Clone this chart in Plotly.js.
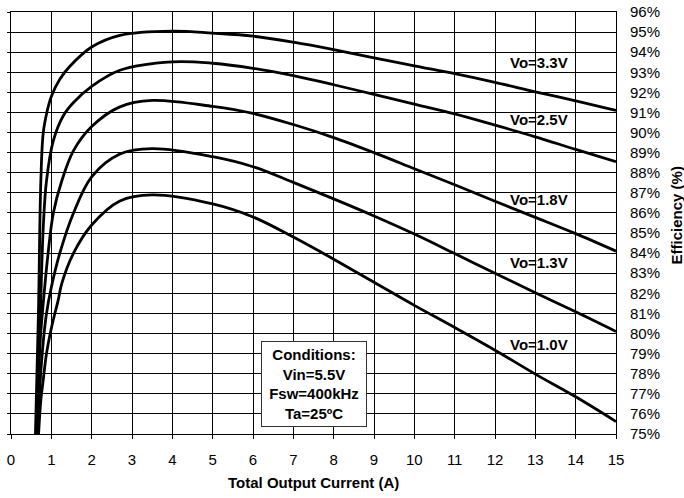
<!DOCTYPE html>
<html>
<head>
<meta charset="utf-8">
<script src="https://cdn.plot.ly/plotly-3.0.1.min.js"></script>
<style>html,body{margin:0;padding:0;background:#fff;}#chart{width:684px;height:498px;}</style>
</head>
<body>
<div id="chart"></div>
<script>
// Efficiency (%) vs Total Output Current (A)
const x33 = [0.60, 0.68, 0.74, 0.80, 0.90, 1.00, 1.21, 1.46, 2.00, 2.70, 4, 5, 6, 7, 8, 9, 10, 11, 12, 13, 14, 15];
const y33 = [74.5, 81.0, 87.6, 90.0, 91.1, 91.8, 92.65, 93.3, 94.26, 94.84, 95.05, 94.95, 94.8, 94.5, 94.13, 93.72, 93.32, 92.93, 92.5, 92.03, 91.58, 91.1];

const x25 = [0.62, 0.72, 0.80, 0.88, 1.05, 1.30, 1.55, 2.00, 2.70, 4, 5, 6, 7, 8, 9, 10, 11, 12, 13, 14, 15];
const y25 = [74.5, 80.5, 85.3, 87.6, 89.6, 90.85, 91.5, 92.3, 93.1, 93.52, 93.45, 93.2, 92.83, 92.38, 91.9, 91.42, 90.93, 90.37, 89.79, 89.16, 88.55];

const x18 = [0.63, 0.72, 0.84, 0.92, 1.05, 1.26, 1.55, 2.00, 2.70, 3.5, 5, 6, 7, 8, 9, 10, 11, 12, 13, 14, 15];
const y18 = [74.5, 79.5, 82.4, 84.0, 86.0, 87.6, 89.1, 90.3, 91.28, 91.6, 91.3, 90.95, 90.4, 89.75, 89.0, 88.2, 87.4, 86.58, 85.78, 84.97, 84.1];

const x13 = [0.65, 0.72, 0.80, 0.88, 1.00, 1.21, 1.55, 2.00, 2.70, 3.5, 5, 6, 7, 8, 9, 10, 11, 12, 13, 14, 15];
const y13 = [74.5, 77.5, 79.6, 81.0, 82.3, 84.0, 86.0, 87.8, 88.93, 89.2, 88.8, 88.3, 87.52, 86.7, 85.85, 84.95, 83.98, 83.0, 82.03, 81.08, 80.1];

const x10 = [0.67, 0.74, 0.80, 0.88, 1.01, 1.17, 1.26, 1.55, 2.00, 2.70, 3.5, 5, 6, 7, 8, 9, 10, 11, 12, 13, 14, 15];
const y10 = [74.5, 76.7, 77.7, 79.0, 80.35, 81.66, 82.5, 84.0, 85.4, 86.6, 86.9, 86.45, 85.8, 84.8, 83.7, 82.55, 81.4, 80.3, 79.17, 77.98, 76.85, 75.62];

const seriesNames = ["Vo=3.3V", "Vo=2.5V", "Vo=1.8V", "Vo=1.3V", "Vo=1.0V"];
const labelX = [13.09, 13.09, 13.09, 13.09, 13.09];
const labelY = [93.5, 90.64, 86.67, 83.54, 79.45];

const xTicks = [0,1,2,3,4,5,6,7,8,9,10,11,12,13,14,15];
const yTicks = [75,76,77,78,79,80,81,82,83,84,85,86,87,88,89,90,91,92,93,94,95,96];
const yTickText = yTicks.map(v => v + "%");

const conditionsText = "Conditions:<br>Vin=5.5V<br>Fsw=400kHz<br>Ta=25ºC";
const conditionsPos = [7.5, 77.5];

const FONT = "Liberation Sans, Arial, sans-serif";
const xs = [x33, x25, x18, x13, x10];
const ys = [y33, y25, y18, y13, y10];

const traces = xs.map((x, i) => ({
  x: x, y: ys[i], type: "scatter", mode: "lines", name: seriesNames[i],
  line: {color: "#000", width: 2.8, shape: "spline", smoothing: 1},
  hoverinfo: "skip", showlegend: false
}));
// invisible trace to anchor the left tick axis
traces.push({x: [0], y: [75], type: "scatter", mode: "markers", yaxis: "y2",
  marker: {opacity: 0}, showlegend: false, hoverinfo: "skip"});

const annotations = seriesNames.map((n, i) => ({
  x: labelX[i], y: labelY[i], xref: "x", yref: "y", text: "<b>" + n + "</b>",
  showarrow: false, font: {family: FONT, size: 15, color: "#000"},
  xanchor: "center", yanchor: "middle"
}));
annotations.push({
  x: conditionsPos[0], y: conditionsPos[1], xref: "x", yref: "y",
  text: "<b>" + conditionsText + "</b>", showarrow: false,
  font: {family: FONT, size: 15, color: "#000"}, align: "center",
  bgcolor: "#fff", bordercolor: "#333", borderwidth: 1, borderpad: 2,
  width: 100, height: 80, xanchor: "center", yanchor: "middle"
});
annotations.push({
  x: 0.5, y: -0.114, xref: "paper", yref: "paper", text: "<b>Total Output Current (A)</b>",
  showarrow: false, font: {family: FONT, size: 15, color: "#000"}, xanchor: "center", yanchor: "middle"
});
annotations.push({
  x: 1.1008, y: 0.5178, xref: "paper", yref: "paper", text: "<b>Efficiency (%)</b>",
  showarrow: false, textangle: -90, font: {family: FONT, size: 15, color: "#000"}, xanchor: "center", yanchor: "middle"
});

const layout = {
  width: 684, height: 498,
  margin: {l: 11, r: 68, t: 12, b: 64, pad: 0},
  paper_bgcolor: "#fff", plot_bgcolor: "#fff",
  font: {family: FONT, size: 15, color: "#000"},
  showlegend: false,
  xaxis: {
    range: [0, 15], tickvals: xTicks, ticktext: xTicks.map(String),
    showgrid: true, gridcolor: "#000", gridwidth: 1, zeroline: false,
    showline: true, linecolor: "#000", linewidth: 1, mirror: true,
    ticks: "outside", ticklen: 4, tickcolor: "#000", tickwidth: 1, ticklabelstandoff: 8,
    tickfont: {family: FONT, size: 15, color: "#000"}, fixedrange: true
  },
  yaxis: {
    range: [75, 96], side: "right", tickvals: yTicks, ticktext: yTickText,
    showgrid: true, gridcolor: "#000", gridwidth: 1, zeroline: false,
    showline: true, linecolor: "#000", linewidth: 1, mirror: true,
    ticks: "", ticklabelstandoff: 10,
    tickfont: {family: FONT, size: 15, color: "#000"}, fixedrange: true
  },
  yaxis2: {
    range: [75, 96], overlaying: "y", side: "left", tickvals: yTicks,
    showticklabels: false, showgrid: false, zeroline: false, showline: false,
    ticks: "outside", ticklen: 3, tickcolor: "#000", tickwidth: 1, fixedrange: true
  },
  annotations: annotations
};

Plotly.newPlot("chart", traces, layout, {staticPlot: true, displayModeBar: false});
</script>
</body>
</html>
